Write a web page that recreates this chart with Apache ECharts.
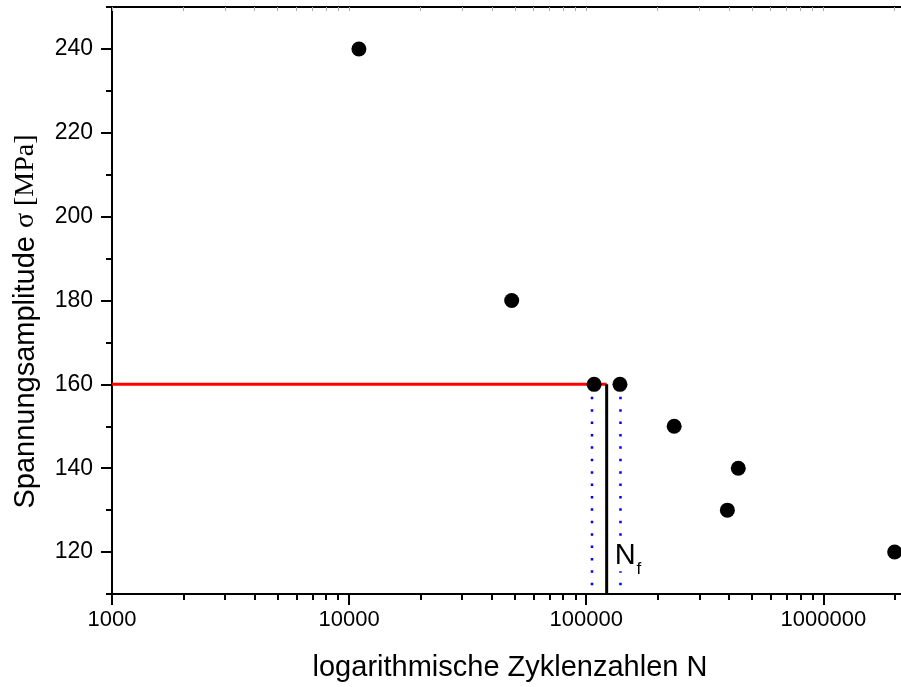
<!DOCTYPE html>
<html>
<head>
<meta charset="utf-8">
<script src="https://cdn.jsdelivr.net/npm/echarts@6/dist/echarts.min.js"></script>
<style>
  html, body { margin: 0; padding: 0; background: #ffffff; }
  #chart { width: 901px; height: 687px; }
</style>
</head>
<body>
<div id="chart"></div>
<script>
// Wöhler data: cycles to failure N and stress amplitude σ [MPa]
const cycles = [11000, 48500, 108000, 138800, 235000, 438000, 394000, 2000000];
const stress = [240, 180, 160, 160, 150, 140, 130, 120];

// evaluation at σ = 160 MPa: the two tests and the resulting N_f
const evalStress = 160;
const evalLowerN = 105800;
const evalUpperN = 139500;
const evalNf = 122000;
const nfLabelAnchor = 119.6;

// axis ranges and tick labels
const xMin = 1000, xMax = 2127000;
const yMin = 110, yMax = 250;
const xMajorTicks = [1000, 10000, 100000, 1000000];
const yMajorTicks = [120, 140, 160, 180, 200, 220, 240];
const yMinorTicks = [110, 130, 150, 170, 190, 210, 230, 250];

const xMinorTicks = [];
for (let d = 1000; d < xMax; d *= 10) {
  for (let k = 2; k <= 9; k++) if (k * d <= xMax) xMinorTicks.push(k * d);
}
const xAllTicks = xMajorTicks.concat(xMinorTicks);

const points = cycles.map((n, i) => [n, stress[i]]);
const sans = '"Liberation Sans", Arial, sans-serif';
const serif = '"Liberation Serif", "Times New Roman", serif';

const chart = echarts.init(document.getElementById('chart'), null, { renderer: 'canvas' });

const baseX = { type: 'log', logBase: 10, min: xMin, max: xMax, splitLine: { show: false } };
const baseY = { type: 'value', min: yMin, max: yMax, splitLine: { show: false } };
const dotted = { color: '#0000ff', width: 2.5, type: [2.5, 9.9], cap: 'butt' };

chart.setOption({
  animation: false,
  backgroundColor: '#ffffff',
  grid: { left: 112, top: 7, right: 0, bottom: 92, containLabel: false },
  xAxis: [
    Object.assign({}, baseX, {
      position: 'bottom',
      axisLine: { show: true, lineStyle: { color: '#000', width: 2 } },
      axisTick: { show: true, inside: false, length: 11, lineStyle: { color: '#000', width: 2 }, customValues: xMajorTicks },
      axisLabel: { show: true, customValues: xMajorTicks, formatter: v => String(Math.round(v)), color: '#000', fontSize: 22, fontFamily: sans, margin: 15 },
      name: 'logarithmische Zyklenzahlen N',
      nameLocation: 'middle',
      nameGap: 59,
      nameTextStyle: { color: '#000', fontSize: 29, fontFamily: sans, padding: [0, 0, 0, 7] }
    }),
    Object.assign({}, baseX, {
      position: 'bottom',
      axisLine: { show: false },
      axisTick: { show: true, inside: false, length: 6, lineStyle: { color: '#000', width: 2 }, customValues: xMinorTicks },
      axisLabel: { show: false }
    }),
    Object.assign({}, baseX, {
      position: 'top',
      axisLine: { show: true, lineStyle: { color: '#000', width: 2 } },
      axisTick: { show: true, inside: true, length: 4, lineStyle: { color: '#aaaaaa', width: 1 }, customValues: xAllTicks },
      axisLabel: { show: false }
    })
  ],
  yAxis: [
    Object.assign({}, baseY, {
      position: 'left',
      axisLine: { show: true, lineStyle: { color: '#000', width: 2 } },
      axisTick: { show: true, inside: false, length: 11, lineStyle: { color: '#000', width: 2 }, customValues: yMajorTicks },
      axisLabel: { show: true, customValues: yMajorTicks, color: '#000', fontSize: 23, fontFamily: sans, margin: 19 },
      name: '{s|Spannungsamplitude }{g|σ [MPa]}',
      nameLocation: 'middle',
      nameRotate: 90,
      nameGap: 72,
      nameTextStyle: {
        color: '#000',
        padding: [0, 42, 0, 0],
        rich: {
          s: { fontSize: 29, fontFamily: sans, color: '#000' },
          g: { fontSize: 28, fontFamily: serif, color: '#000' }
        }
      }
    }),
    Object.assign({}, baseY, {
      position: 'left',
      axisLine: { show: false },
      axisTick: { show: true, inside: false, length: 6, lineStyle: { color: '#000', width: 2 }, customValues: yMinorTicks },
      axisLabel: { show: false }
    })
  ],
  series: [
    {
      name: 'Grenzlinie σ',
      type: 'line',
      data: [[xMin, evalStress], [evalNf, evalStress]],
      symbol: 'none',
      lineStyle: { color: '#ff0000', width: 3 },
      z: 2
    },
    {
      name: 'N untere',
      type: 'line',
      data: [[evalLowerN, evalStress], [evalLowerN, yMin]],
      symbol: 'none',
      lineStyle: dotted,
      z: 1
    },
    {
      name: 'N obere',
      type: 'line',
      data: [[evalUpperN, evalStress], [evalUpperN, yMin]],
      symbol: 'none',
      lineStyle: dotted,
      z: 1
    },
    {
      name: 'Nf',
      type: 'line',
      data: [[evalNf, evalStress], [evalNf, yMin]],
      symbol: 'none',
      lineStyle: { color: '#000', width: 3 },
      z: 2
    },
    {
      name: 'Nf Beschriftung',
      type: 'scatter',
      data: [[evalNf, nfLabelAnchor]],
      symbolSize: 0,
      itemStyle: { color: '#000', opacity: 1 },
      z: 5,
      label: {
        show: true,
        position: 'right',
        distance: 7,
        color: '#000',
        opacity: 1,
        formatter: '{n|N}{f|f}',
        backgroundColor: '#ffffff',
        padding: [5, 2, 0, 1],
        rich: {
          n: { fontSize: 29, fontFamily: sans, color: '#000', verticalAlign: 'top', lineHeight: 30 },
          f: { fontSize: 17, fontFamily: sans, color: '#000', verticalAlign: 'top', lineHeight: 18, padding: [20, 0, 0, 1] }
        }
      }
    },
    {
      name: 'Versuche',
      type: 'scatter',
      data: points,
      symbol: 'circle',
      symbolSize: 15,
      clip: false,
      itemStyle: { color: '#000', opacity: 1 },
      z: 4
    }
  ]
});
</script>
</body>
</html>
